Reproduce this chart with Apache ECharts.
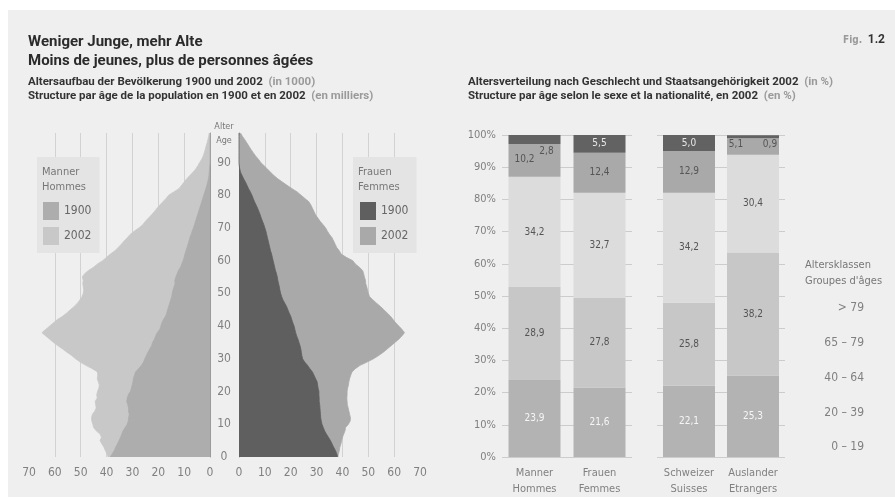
<!DOCTYPE html>
<html><head><meta charset="utf-8">
<script src="https://cdn.jsdelivr.net/npm/echarts@6/dist/echarts.min.js"></script>
<style>
html,body{margin:0;padding:0;background:#fff;}
#panel{position:absolute;left:8px;top:10px;width:887px;height:487px;background:#efefef;}
#chart{position:absolute;left:0;top:0;width:895px;height:497px;}
</style></head><body><div id="panel"></div><div id="chart"></div>
<script>
// ---------- Data: age pyramid (in 1000), ages 0..99 ----------
const ages = Array.from({length: 100}, (_, i) => String(i));
const men2002 = [39.4,39.8,40.5,41.0,41.8,42.5,42.0,42.5,44.0,45.0,
 45.3,45.7,45.8,45.5,44.6,44.0,44.2,44.4,43.6,43.8,
 43.5,43.0,42.8,43.2,43.6,43.4,43.5,45.5,48.0,50.2,
 52.0,53.5,55.3,57.0,58.8,60.5,62.0,63.5,65.0,63.5,
 62.0,60.5,59.0,57.0,55.4,54.0,52.5,51.3,50.3,49.5,
 49.0,48.8,49.0,49.2,49.0,49.4,48.5,47.0,45.0,43.5,
 41.5,40.0,38.5,36.8,35.5,34.3,33.2,32.0,30.9,29.3,
 27.5,26.0,25.0,23.8,22.6,21.5,20.5,19.4,18.2,17.0,
 16.0,14.0,12.0,11.0,10.0,9.0,7.8,6.6,5.5,4.7,
 4.0,3.2,2.6,2.2,1.8,1.5,1.1,0.8,0.5,0.3];
const men1900 = [38.6,37.8,37.0,36.5,35.8,35.2,34.6,34.1,33.6,32.8,
 32.0,31.6,31.5,31.2,31.5,31.5,31.8,32.2,32.0,31.6,
 30.8,30.4,30.1,29.8,29.6,29.2,28.8,27.6,26.5,25.7,
 25.2,24.6,24.0,23.3,22.6,22.2,21.5,21.0,20.4,19.4,
 19.0,18.6,18.0,17.2,16.7,16.4,16.0,15.6,15.2,14.8,
 14.6,14.3,13.9,13.5,13.6,13.2,12.7,12.2,11.4,10.9,
 10.4,10.0,9.7,9.3,8.9,8.5,8.1,7.8,7.3,6.9,
 6.4,6.0,5.6,5.2,4.8,4.4,4.0,3.6,3.2,2.8,
 2.4,2.0,1.6,1.2,0.9,0.6,0.4,0.3,0.2,0.1,
 0,0,0,0,0,0,0,0,0,0];
const women2002 = [38.2,38.5,38.8,39.0,39.4,39.7,40.0,40.5,41.0,41.2,
 42.3,43.0,43.1,42.8,42.5,42.2,41.9,41.8,41.7,41.8,
 41.8,42.0,42.3,42.5,42.8,43.2,43.7,45.0,46.8,49.5,
 52.0,54.0,55.8,57.3,58.8,60.3,61.8,63.0,64.0,63.0,
 61.8,60.6,59.6,58.6,57.3,56.0,54.7,53.2,51.8,50.5,
 50.0,49.7,49.4,49.0,48.9,48.5,48.2,47.8,46.5,45.0,
 44.0,41.5,39.5,38.8,37.8,37.2,36.6,36.0,35.0,34.2,
 33.5,32.5,31.4,30.5,29.6,29.0,28.4,27.8,27.0,25.5,
 24.0,22.5,20.5,18.6,16.8,15.0,13.5,12.2,11.0,9.7,
 8.4,7.5,6.4,5.5,4.6,3.8,3.0,2.2,1.3,0.6];
const women1900 = [38.2,37.8,37.3,36.6,36.0,35.4,34.6,33.8,33.1,32.6,
 32.1,31.8,31.6,31.5,31.4,31.3,31.2,31.0,31.0,30.9,
 30.9,30.6,30.4,30.2,29.6,29.0,28.4,27.4,26.5,25.4,
 24.6,24.3,24.1,23.9,23.6,23.2,22.8,22.3,21.9,21.6,
 21.3,20.8,20.4,20.0,19.4,18.9,18.4,17.7,17.0,16.5,
 16.1,15.8,15.6,15.3,15.0,14.8,14.5,14.1,13.8,13.5,
 13.2,12.9,12.6,12.2,11.9,11.6,11.3,11.0,10.7,10.4,
 10.0,9.6,9.1,8.6,8.2,7.7,7.2,6.6,6.0,5.5,
 5.0,4.4,3.7,3.1,2.5,1.8,1.2,0.6,0.3,0.1,
 0,0,0,0,0,0,0,0,0,0];
const pyramidGridValues = [10, 20, 30, 40, 50, 60];

// ---------- Data: age structure 2002 (in %) ----------
const ageClasses = ['0 – 19', '20 – 39', '40 – 64', '65 – 79', '> 79'];
const groupSex = ['Manner\nHommes', 'Frauen\nFemmes'];
const groupNat = ['Schweizer\nSuisses', 'Auslander\nEtrangers'];
const manner = [23.9, 28.9, 34.2, 10.2, 2.8];
const frauen = [21.6, 27.8, 32.7, 12.4, 5.5];
const schweizer = [22.1, 25.8, 34.2, 12.9, 5.0];
const auslaender = [25.3, 38.2, 30.4, 5.1, 0.9];

// ---------- Styles ----------
const FF = "'DejaVu Sans Condensed','Liberation Sans Narrow','Roboto',sans-serif";
const FT = "Roboto,'Liberation Sans',sans-serif";
const TICK = '#808080';
const classColors = ['#b3b3b3', '#c7c7c7', '#dcdcdc', '#a9a9a9', '#626262'];
const classLabelColors = ['#f6f6f6', '#555', '#555', '#555', '#e8e8e8'];

const fmt = v => v.toFixed(1).replace('.', ',');

function makeStack(values0, values1, stack, xi, yi, special) {
  return ageClasses.map((cls, k) => {
    const data = [values0[k], values1[k]].map((v, i) => {
      const item = { value: v };
      const sp = special[k + '_' + i];
      if (sp) item.label = sp;
      return item;
    });
    return {
      name: cls, type: 'bar', stack: stack, xAxisIndex: xi, yAxisIndex: yi,
      barWidth: 52, data: data,
      itemStyle: { color: classColors[k] },
      label: { show: true, position: 'inside', formatter: p => fmt(p.value),
               color: classLabelColors[k], fontSize: 10, fontFamily: FF },
      emphasis: { disabled: true }
    };
  });
}

const sexSpecial = {
  '3_0': { offset: [-10, -1.5] },
  '4_0': { offset: [12, 11.5], color: '#555' }
};
const natSpecial = {
  '3_1': { offset: [-17, -2] },
  '4_1': { offset: [17, 7.6], color: '#555' }
};

const pyrArea = (name, data, xi, yi, color, withGrid) => {
  const s = {
    name: name, type: 'line', xAxisIndex: xi, yAxisIndex: yi, data: data,
    symbol: 'none', showSymbol: false,
    itemStyle: { color: color },
    lineStyle: { color: color, width: 0.8 },
    areaStyle: { color: color, opacity: 1 },
    emphasis: { disabled: true }, z: 2
  };
  if (withGrid) {
    s.markLine = {
      silent: true, symbol: 'none', z: 1, animation: false,
      label: { show: false },
      lineStyle: { color: '#d2d2d2', type: 'solid', width: 1 },
      data: pyramidGridValues.map(v => ({ xAxis: v }))
    };
  }
  return s;
};

const richSub = {
  b: { fontSize: 11.5, fontWeight: 'bold', color: '#333', fontFamily: FT, lineHeight: 14 },
  l: { fontSize: 11.5, color: '#9a9a9a', fontFamily: FT, lineHeight: 14 }
};

const option = {
  animation: false,
  backgroundColor: 'transparent',
  textStyle: { fontFamily: FF },
  title: [
    { text: 'Weniger Junge, mehr Alte\nMoins de jeunes, plus de personnes âgées',
      left: 28, top: 33, padding: 0,
      textStyle: { fontSize: 15, fontWeight: 'bold', color: '#2b2b2b', lineHeight: 19, fontFamily: FT } },
    { text: '{b|Altersaufbau der Bevölkerung 1900 und 2002} {l|(in 1000)}\n{b|Structure par âge de la population en 1900 et en 2002} {l|(en milliers)}',
      left: 28, top: 75, padding: 0, textStyle: { lineHeight: 14, rich: richSub } },
    { text: '{b|Altersverteilung nach Geschlecht und Staatsangehörigkeit 2002} {l|(in %)}\n{b|Structure par âge selon le sexe et la nationalité, en 2002} {l|(en %)}',
      left: 468, top: 75, padding: 0, textStyle: { lineHeight: 14, rich: richSub } },
    { text: '{l|Fig.} {b|1.2}', left: 885, top: 31, padding: 0, textAlign: 'right',
      textStyle: { rich: {
        l: { fontSize: 10, color: '#9a9a9a', fontFamily: FF },
        b: { fontSize: 12, fontWeight: 'bold', color: '#333', fontFamily: FT } } } },
    { text: 'Alter\nAge', left: 224, top: 120, padding: 0, textAlign: 'center',
      textStyle: { fontSize: 9, color: '#777', lineHeight: 14, fontWeight: 'normal', fontFamily: FF } },
    { text: 'Manner\nHommes', left: 42, top: 165, padding: 0, z: 10,
      textStyle: { fontSize: 11, color: '#777', lineHeight: 15, fontWeight: 'normal', fontFamily: FF } },
    { text: 'Frauen\nFemmes', left: 358, top: 165, padding: 0, z: 10,
      textStyle: { fontSize: 11, color: '#777', lineHeight: 15, fontWeight: 'normal', fontFamily: FF } },
    { text: "Altersklassen\nGroupes d'âges", left: 805, top: 257, padding: 0,
      textStyle: { fontSize: 11, color: '#777', lineHeight: 16, fontWeight: 'normal', fontFamily: FF } },
    { text: ageClasses.slice().reverse().join('\n'), left: 864, top: 291, padding: 0, textAlign: 'right',
      textStyle: { fontSize: 12, color: '#808080', lineHeight: 34.7, fontWeight: 'normal', fontFamily: FF } }
  ],
  legend: [
    { data: ['M1900', 'M2002'], formatter: n => n.slice(1), orient: 'vertical',
      left: 37, top: 157, padding: [45, 8, 8, 6], itemGap: 7, itemWidth: 16, itemHeight: 18,
      backgroundColor: '#e4e4e4', selectedMode: false, icon: 'rect',
      textStyle: { fontSize: 12, color: '#666', fontFamily: FF } },
    { data: ['F1900', 'F2002'], formatter: n => n.slice(1), orient: 'vertical',
      left: 353, top: 157, padding: [45, 8, 8, 7], itemGap: 7, itemWidth: 16, itemHeight: 18,
      backgroundColor: '#e4e4e4', selectedMode: false, icon: 'rect',
      textStyle: { fontSize: 12, color: '#666', fontFamily: FF } }
  ],
  grid: [
    { left: 29, top: 133, width: 181, height: 324, outerBoundsMode: 'none', containLabel: false },
    { left: 239, top: 133, width: 181, height: 324, outerBoundsMode: 'none', containLabel: false },
    { left: 502, top: 135, width: 130, height: 322, outerBoundsMode: 'none', containLabel: false },
    { left: 657, top: 135, width: 128, height: 322, outerBoundsMode: 'none', containLabel: false }
  ],
  xAxis: [
    { gridIndex: 0, type: 'value', inverse: true, min: 0, max: 70, interval: 10,
      splitLine: { show: false }, axisLine: { show: false }, axisTick: { show: false },
      axisLabel: { color: TICK, fontSize: 12, margin: 10, fontFamily: FF } },
    { gridIndex: 1, type: 'value', min: 0, max: 70, interval: 10,
      splitLine: { show: false }, axisLine: { show: false }, axisTick: { show: false },
      axisLabel: { color: TICK, fontSize: 12, margin: 10, fontFamily: FF } },
    { gridIndex: 2, type: 'category', data: groupSex,
      axisLine: { show: false }, axisTick: { show: false },
      axisLabel: { interval: 0, hideOverlap: false, color: TICK, fontSize: 11, lineHeight: 16, margin: 8, fontFamily: FF } },
    { gridIndex: 3, type: 'category', data: groupNat,
      axisLine: { show: false }, axisTick: { show: false },
      axisLabel: { interval: 0, hideOverlap: false, color: TICK, fontSize: 11, lineHeight: 16, margin: 8, fontFamily: FF } }
  ],
  yAxis: [
    { gridIndex: 0, type: 'category', data: ages, position: 'right', boundaryGap: false,
      axisLine: { show: true, lineStyle: { color: '#9a9a9a', width: 1 } },
      axisTick: { show: false }, axisLabel: { show: false }, splitLine: { show: false } },
    { gridIndex: 1, type: 'category', data: ages, position: 'left', boundaryGap: false,
      axisLine: { show: true, lineStyle: { color: '#9a9a9a', width: 1 } },
      axisTick: { show: false }, splitLine: { show: false },
      axisLabel: { show: true, interval: i => i % 10 === 0, align: 'center', margin: 15,
                   color: TICK, fontSize: 12, fontFamily: FF } },
    { gridIndex: 2, type: 'value', min: 0, max: 100, interval: 10,
      axisLine: { show: false }, axisTick: { show: false },
      axisLabel: { formatter: '{value}%', color: TICK, fontSize: 11, margin: 6, fontFamily: FF },
      splitLine: { show: true, lineStyle: { color: '#cccccc', width: 1 } } },
    { gridIndex: 3, type: 'value', min: 0, max: 100, interval: 10,
      axisLine: { show: false }, axisTick: { show: false }, axisLabel: { show: false },
      splitLine: { show: true, lineStyle: { color: '#cccccc', width: 1 } } }
  ],
  series: [
    pyrArea('M2002', men2002, 0, 0, '#c8c8c8', true),
    pyrArea('M1900', men1900, 0, 0, '#adadad', false),
    pyrArea('F2002', women2002, 1, 1, '#a9a9a9', true),
    pyrArea('F1900', women1900, 1, 1, '#5f5f5f', false),
    ...makeStack(manner, frauen, 'sex', 2, 2, sexSpecial),
    ...makeStack(schweizer, auslaender, 'nat', 3, 3, natSpecial)
  ]
};

const chart = echarts.init(document.getElementById('chart'), null, { renderer: 'canvas' });
chart.setOption(option);
</script>
</body></html>
